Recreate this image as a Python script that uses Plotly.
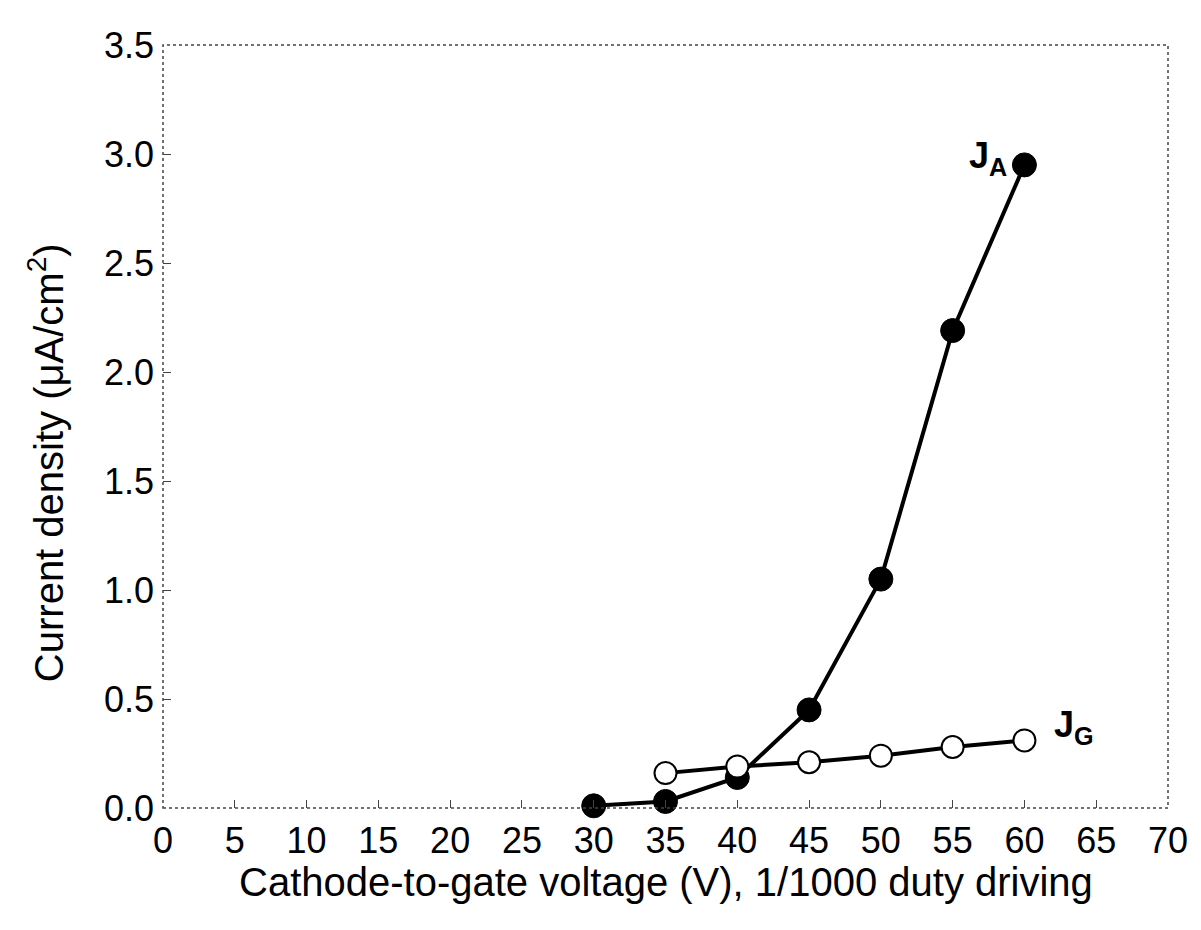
import plotly.graph_objects as go

voltage_a = [30, 35, 40, 45, 50, 55, 60]
ja_values = [0.01, 0.03, 0.14, 0.45, 1.05, 2.19, 2.95]
voltage_g = [35, 40, 45, 50, 55, 60]
jg_values = [0.16, 0.19, 0.21, 0.24, 0.28, 0.31]

x_ticks = list(range(0, 75, 5))
y_ticks = [0.0, 0.5, 1.0, 1.5, 2.0, 2.5, 3.0, 3.5]

FONT = "Liberation Sans, Arial, sans-serif"

fig = go.Figure()
fig.add_trace(go.Scatter(
    x=voltage_a, y=ja_values, mode="lines+markers",
    line=dict(color="black", width=4),
    marker=dict(size=24, color="black", line=dict(color="black", width=1)),
    showlegend=False, cliponaxis=False))
fig.add_trace(go.Scatter(
    x=voltage_g, y=jg_values, mode="lines+markers",
    line=dict(color="black", width=4),
    marker=dict(size=22, color="white", line=dict(color="black", width=2)),
    showlegend=False, cliponaxis=False))

fig.add_annotation(x=58.9, y=2.98, xref="x", yref="y", text="<b>J<sub>A</sub></b>",
                   showarrow=False, xanchor="right", yanchor="middle",
                   font=dict(family=FONT, size=36, color="black"))
fig.add_annotation(x=61.9, y=0.37, xref="x", yref="y", text="<b>J<sub>G</sub></b>",
                   showarrow=False, xanchor="left", yanchor="middle",
                   font=dict(family=FONT, size=36, color="black"))

# axis titles
fig.add_annotation(x=0.5, y=-0.097, xref="paper", yref="paper",
                   text="Cathode-to-gate voltage (V), 1/1000 duty driving",
                   showarrow=False, xanchor="center", yanchor="middle",
                   font=dict(family=FONT, size=40, color="black"))
fig.add_annotation(x=-0.1164, y=0.452, xref="paper", yref="paper",
                   text="Current density (\u03bcA/cm<sup>2</sup>)", textangle=-90,
                   showarrow=False, xanchor="center", yanchor="middle",
                   font=dict(family=FONT, size=40, color="black"))

# dotted frame
fig.add_shape(type="rect", xref="paper", yref="paper", x0=0, y0=0, x1=1, y1=1,
              line=dict(color="#444", width=1.5, dash="dot"))

fig.update_xaxes(range=[0, 70], tickvals=x_ticks, ticktext=[str(v) for v in x_ticks],
                 ticks="inside", ticklen=8, tickcolor="#444", tickwidth=1,
                 showgrid=False, zeroline=False, showline=False, automargin=False,
                 ticklabelstandoff=8,
                 tickfont=dict(family=FONT, size=36, color="black"))
fig.update_yaxes(range=[0, 3.5], tickvals=y_ticks, ticktext=[f"{v:.1f}" for v in y_ticks],
                 ticks="inside", ticklen=8, tickcolor="#444", tickwidth=1,
                 showgrid=False, zeroline=False, showline=False, automargin=False,
                 ticklabelstandoff=8,
                 tickfont=dict(family=FONT, size=36, color="black"))

fig.update_layout(width=1201, height=930, plot_bgcolor="white", paper_bgcolor="white",
                  margin=dict(l=155, r=41, t=37, b=130))

fig.write_html("out.html")
